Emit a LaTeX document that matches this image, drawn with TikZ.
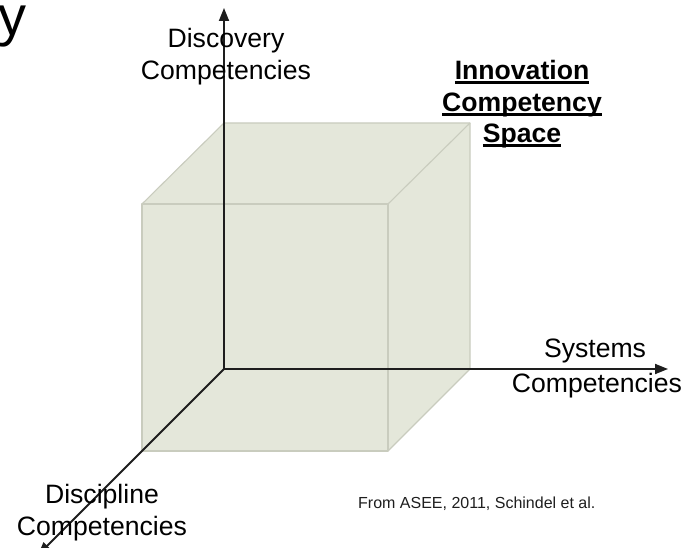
\documentclass[tikz,border=0pt]{standalone}
\usepackage{fontspec}
\setmainfont{Liberation Sans}
\usetikzlibrary{arrows.meta}
\definecolor{cubefill}{HTML}{E4E7DA}
\definecolor{cubeedge}{HTML}{C9CCBE}
\definecolor{axiscol}{HTML}{1E1E1E}
\newcommand\myul[1]{\setbox0\hbox{#1}\rlap{\rule[-3.6pt]{\wd0}{2.2pt}}\box0}
\begin{document}
\begin{tikzpicture}[x=1pt,y=-1pt,
  lbl/.style={inner sep=0pt,anchor=base,font=\fontsize{26.6}{32}\selectfont},
  ttl/.style={inner sep=0pt,anchor=base,font=\fontsize{26.6}{32}\selectfont\bfseries},
  axisline/.style={draw=axiscol,line width=1.8pt,-{Triangle[length=13pt,width=10pt]}},
  cubeline/.style={draw=cubeedge,line width=1.1pt,line join=round}]
\useasboundingbox (0,0) rectangle (683,548);
\clip (0,0) rectangle (683,548);
% cube corners
\coordinate (o) at (224,369);
\coordinate (f1) at (142,204);
\coordinate (f2) at (388,204);
\coordinate (f3) at (388,451);
\coordinate (f4) at (142,451);
\coordinate (b1) at (224,123);
\coordinate (b2) at (470,123);
\coordinate (b3) at (470,369);
\fill[cubefill] (f1) -- (b1) -- (b2) -- (b3) -- (f3) -- (f4) -- cycle;
\draw[cubeline] (f1) rectangle (f3);
\draw[cubeline] (f1) -- (b1) -- (b2) -- (b3) -- (f3);
\draw[cubeline] (f2) -- (b2);
% axes
\coordinate (ytip) at (224,8);
\coordinate (xtip) at (668,369);
\coordinate (ztip) at (38,555);
\draw[axisline] (o) -- (ytip);
\draw[axisline] (o) -- (xtip);
\draw[axisline] (o) -- (ztip);
% labels
\node[inner sep=0pt,anchor=base east,font=\fontsize{56}{60}\selectfont] (ychar) at (27,36) {y};
\node[lbl] (disc1) at (226,48) {Discovery};
\node[lbl] (disc2) at (226,80) {Competencies};
\node[lbl] (sys1) at (595,357) {Systems};
\node[lbl] (sys2) at (597,392) {Competencies};
\node[lbl] (dis1) at (102,503) {Discipline};
\node[lbl] (dis2) at (102,535) {Competencies};
\node[ttl] (t1) at (522,80) {\myul{Innovation}};
\node[ttl] (t2) at (522,112) {\myul{Competency}};
\node[ttl] (t3) at (522,143) {\myul{Space}};
\node[inner sep=0pt,anchor=base west,font=\fontsize{16}{19}\selectfont,text=axiscol] (cite) at (358,508) {From ASEE, 2011, Schindel et al.};
\end{tikzpicture}
\end{document}
